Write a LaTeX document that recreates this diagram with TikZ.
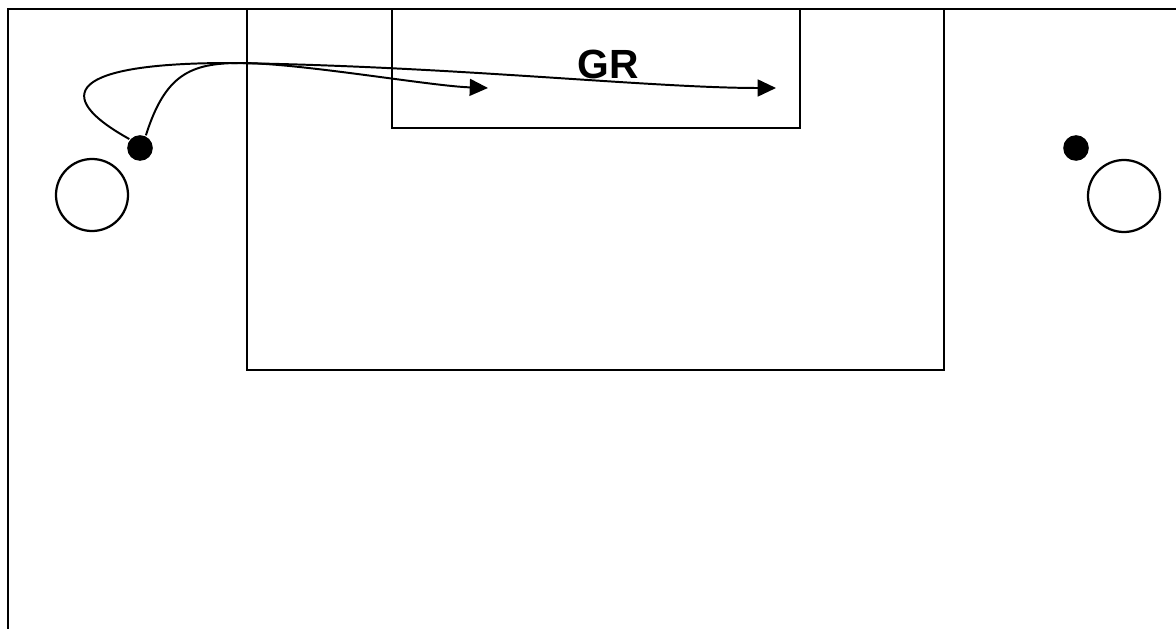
\documentclass[tikz,border=0pt]{standalone}
\usepackage{fontspec}
\setmainfont{Liberation Sans}
\usetikzlibrary{arrows.meta}

\begin{document}
\begin{tikzpicture}[x=0.025cm,y=-0.025cm,line width=1.6pt,
    player/.style={circle,fill,inner sep=0pt,minimum size=0.64cm},
    ring/.style={circle,draw,inner sep=0pt,minimum size=1.8cm},
    run/.style={-{Triangle[length=13pt,width=12pt]},line width=1.4pt}]
      \useasboundingbox (0,0) rectangle (1176,629);

      % pitch lines and the two boxes
      \draw (1176,9) -- (8,9) -- (8,629);
      \draw (247,9) rectangle (944,370);
      \draw (392,9) rectangle (800,128);
      \node[font=\bfseries\fontsize{29}{34}\selectfont] (gr) at (608,64) {GR};

      \node[player] (p1) at (140,148) {};
      \node[player] (p2) at (1076,148) {};
      \node[ring] (r1) at (92,195) {};
      \node[ring] (r2) at (1124,196) {};

      \coordinate (shortend) at (488,88);
      \coordinate (longend) at (776,88);

      % the two runs from the left player
      \draw[run] (p1.140) .. controls (50,95) and (70,63) .. (230,63)
                 .. controls (450,66) and (650,88) .. (longend);
      \draw[run] (p1.65) .. controls (165,75) and (190,63) .. (240,63)
                 .. controls (300,63) and (430,86) .. (shortend);
\end{tikzpicture}
\end{document}
